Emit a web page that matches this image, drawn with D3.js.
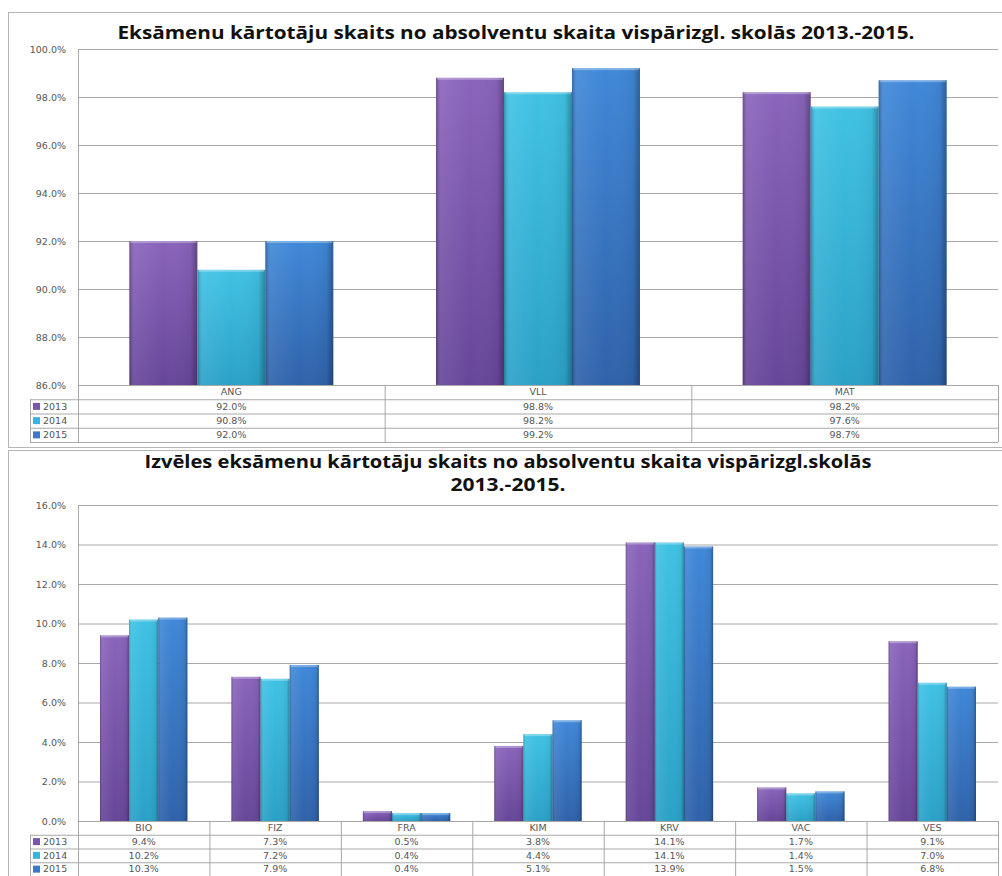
<!DOCTYPE html>
<html>
<head>
<meta charset="utf-8">
<script src="https://cdn.jsdelivr.net/npm/d3@7"></script>
<style>
  body { margin: 0; background: #fff; }
  svg { display: block; }
</style>
</head>
<body>
<div id="chart"></div>
<script>
// data
const years = ["2013", "2014", "2015"];

const mainSubjects = ["ANG", "VLL", "MAT"];
const main2013 = [92.0, 98.8, 98.2];
const main2014 = [90.8, 98.2, 97.6];
const main2015 = [92.0, 99.2, 98.7];
const mainTicks = [86, 88, 90, 92, 94, 96, 98, 100];

const electiveSubjects = ["BIO", "FIZ", "FRA", "KIM", "KRV", "VAC", "VES"];
const elective2013 = [9.4, 7.3, 0.5, 3.8, 14.1, 1.7, 9.1];
const elective2014 = [10.2, 7.2, 0.4, 4.4, 14.1, 1.4, 7.0];
const elective2015 = [10.3, 7.9, 0.4, 5.1, 13.9, 1.5, 6.8];
const electiveTicks = [0, 2, 4, 6, 8, 10, 12, 14, 16];

const colors = {
  "2013": { top: "#8a64bb", bottom: "#674699", key: "#7a55ab" },
  "2014": { top: "#40c2e4", bottom: "#2ba1c7", key: "#36b4da" },
  "2015": { top: "#4088d8", bottom: "#2f62aa", key: "#3b78c8" }
};

const fmt = d => d3.format(".1f")(d) + "%";

const svg = d3.select("#chart").append("svg")
  .attr("width", 1002)
  .attr("height", 876)
  .style("font-family", "'DejaVu Sans', Verdana, sans-serif");

// gradients for the bevelled bars
const defs = svg.append("defs");
years.forEach(y => {
  const g = defs.append("linearGradient")
    .attr("id", "fill" + y)
    .attr("x1", 0).attr("y1", 0).attr("x2", 0).attr("y2", 1);
  g.append("stop").attr("offset", "0%").attr("stop-color", colors[y].top);
  g.append("stop").attr("offset", "100%").attr("stop-color", colors[y].bottom);
});
const edge = defs.append("linearGradient")
  .attr("id", "edge")
  .attr("x1", 0).attr("y1", 0).attr("x2", 1).attr("y2", 0);
edge.append("stop").attr("offset", "0%").attr("stop-color", "#000").attr("stop-opacity", 0.25);
edge.append("stop").attr("offset", "8%").attr("stop-color", "#fff").attr("stop-opacity", 0.08);
edge.append("stop").attr("offset", "50%").attr("stop-color", "#fff").attr("stop-opacity", 0.0);
edge.append("stop").attr("offset", "90%").attr("stop-color", "#000").attr("stop-opacity", 0.05);
edge.append("stop").attr("offset", "100%").attr("stop-color", "#000").attr("stop-opacity", 0.3);

function drawChart(opt) {
  const g = svg.append("g");

  // outer chart frame
  g.append("rect")
    .attr("x", 8.5).attr("y", opt.frameTop + 0.5)
    .attr("width", 1010).attr("height", opt.frameHeight)
    .attr("fill", "none").attr("stroke", "#b5b5b5");

  // title
  opt.title.forEach((t, i) => {
    g.append("text")
      .attr("x", opt.titleX[i])
      .attr("y", opt.titleY[i])
      .attr("text-anchor", "middle")
      .attr("font-family", "'Open Sans', sans-serif")
      .attr("font-weight", "bold")
      .attr("font-size", 17)
      .attr("fill", "#111")
      .attr("textLength", opt.titleLen[i])
      .attr("lengthAdjust", "spacingAndGlyphs")
      .text(t);
  });

  const left = 78, right = 998;
  const x0 = d3.scaleBand().domain(opt.categories).range([left, right]);
  const groupW = x0.bandwidth() * 0.665;
  const x1 = d3.scaleBand().domain(years).range([0, groupW]);
  const y = d3.scaleLinear().domain(opt.domain).range([opt.bottom, opt.top]);

  // gridlines + labels
  g.append("g")
    .attr("transform", "translate(" + left + ",0)")
    .call(d3.axisLeft(y).tickValues(opt.ticks).tickSize(-(right - left)).tickFormat(fmt).tickPadding(12))
    .call(a => a.select(".domain").remove())
    .call(a => a.selectAll("line").attr("stroke", "#a8a8a8"))
    .call(a => a.selectAll("text").attr("fill", "#555").attr("font-size", 9.5)
      .attr("font-family", "'DejaVu Sans', Verdana, sans-serif"));

  // left plot border
  g.append("line")
    .attr("x1", left + 0.5).attr("x2", left + 0.5)
    .attr("y1", opt.top).attr("y2", opt.bottom)
    .attr("stroke", "#a8a8a8");

  // bars
  const rows = opt.categories.map((c, i) => ({
    cat: c,
    vals: years.map((yr, j) => ({ year: yr, value: opt.series[j][i] }))
  }));

  const grp = g.selectAll(".grp")
    .data(rows)
    .enter().append("g")
    .attr("transform", d => "translate(" + (x0(d.cat) + (x0.bandwidth() - groupW) / 2) + ",0)");

  const bar = grp.selectAll(".bar")
    .data(d => d.vals)
    .enter().append("g");

  bar.append("rect")
    .attr("x", d => x1(d.year))
    .attr("y", d => y(d.value))
    .attr("width", x1.bandwidth())
    .attr("height", d => opt.bottom - y(d.value))
    .attr("fill", d => "url(#fill" + d.year + ")");
  bar.append("rect")
    .attr("x", d => x1(d.year))
    .attr("y", d => y(d.value))
    .attr("width", x1.bandwidth())
    .attr("height", d => opt.bottom - y(d.value))
    .attr("fill", "url(#edge)");
  bar.append("rect")
    .attr("x", d => x1(d.year) + 1)
    .attr("y", d => y(d.value))
    .attr("width", x1.bandwidth() - 2)
    .attr("height", 2)
    .attr("fill", "#fff")
    .attr("opacity", 0.3);

  // data table
  const rowH = opt.rowH;
  const tTop = opt.bottom;
  const tBottom = tTop + rowH * 4;
  const tg = g.append("g").attr("font-size", 9.5).attr("fill", "#555");

  // horizontal lines
  [0, 1, 2, 3, 4].forEach(r => {
    tg.append("line")
      .attr("x1", r === 0 ? left : 30).attr("x2", right)
      .attr("y1", tTop + r * rowH + 0.5).attr("y2", tTop + r * rowH + 0.5)
      .attr("stroke", "#a8a8a8");
  });
  // vertical lines
  opt.categories.forEach(c => {
    tg.append("line")
      .attr("x1", x0(c) + 0.5).attr("x2", x0(c) + 0.5)
      .attr("y1", tTop).attr("y2", tBottom)
      .attr("stroke", "#a8a8a8");
  });
  tg.append("line")
    .attr("x1", right + 0.5).attr("x2", right + 0.5)
    .attr("y1", tTop).attr("y2", tBottom).attr("stroke", "#a8a8a8");
  tg.append("line")
    .attr("x1", 30.5).attr("x2", 30.5)
    .attr("y1", tTop + rowH).attr("y2", tBottom).attr("stroke", "#a8a8a8");

  // category names
  tg.selectAll(".cat")
    .data(opt.categories)
    .enter().append("text")
    .attr("x", d => x0(d) + x0.bandwidth() / 2)
    .attr("y", tTop + rowH / 2)
    .attr("dy", "0.35em")
    .attr("text-anchor", "middle")
    .text(d => d);

  // series rows
  years.forEach((yr, j) => {
    const ry = tTop + rowH * (j + 1);
    tg.append("rect")
      .attr("x", 33).attr("y", ry + rowH / 2 - 3.5)
      .attr("width", 7).attr("height", 7)
      .attr("fill", colors[yr].key);
    tg.append("text")
      .attr("x", 43).attr("y", ry + rowH / 2).attr("dy", "0.35em")
      .text(yr);
    tg.selectAll(".v" + yr)
      .data(opt.series[j])
      .enter().append("text")
      .attr("x", (d, i) => x0(opt.categories[i]) + x0.bandwidth() / 2)
      .attr("y", ry + rowH / 2)
      .attr("dy", "0.35em")
      .attr("text-anchor", "middle")
      .text(d => fmt(d));
  });
}

drawChart({
  frameTop: 12, frameHeight: 435,
  title: ["Eksāmenu kārtotāju skaits no absolventu skaita vispārizgl. skolās 2013.-2015."],
  titleX: [516], titleY: [39], titleLen: [797],
  categories: mainSubjects,
  series: [main2013, main2014, main2015],
  domain: [86, 100], ticks: mainTicks,
  top: 49, bottom: 385, rowH: 14.25
});

drawChart({
  frameTop: 450, frameHeight: 500,
  title: ["Izvēles eksāmenu kārtotāju skaits no absolventu skaita vispārizgl.skolās", "2013.-2015."],
  titleX: [508, 508], titleY: [468, 491], titleLen: [727, 115],
  categories: electiveSubjects,
  series: [elective2013, elective2014, elective2015],
  domain: [0, 16], ticks: electiveTicks,
  top: 505, bottom: 821, rowH: 13.75
});
</script>
</body>
</html>
